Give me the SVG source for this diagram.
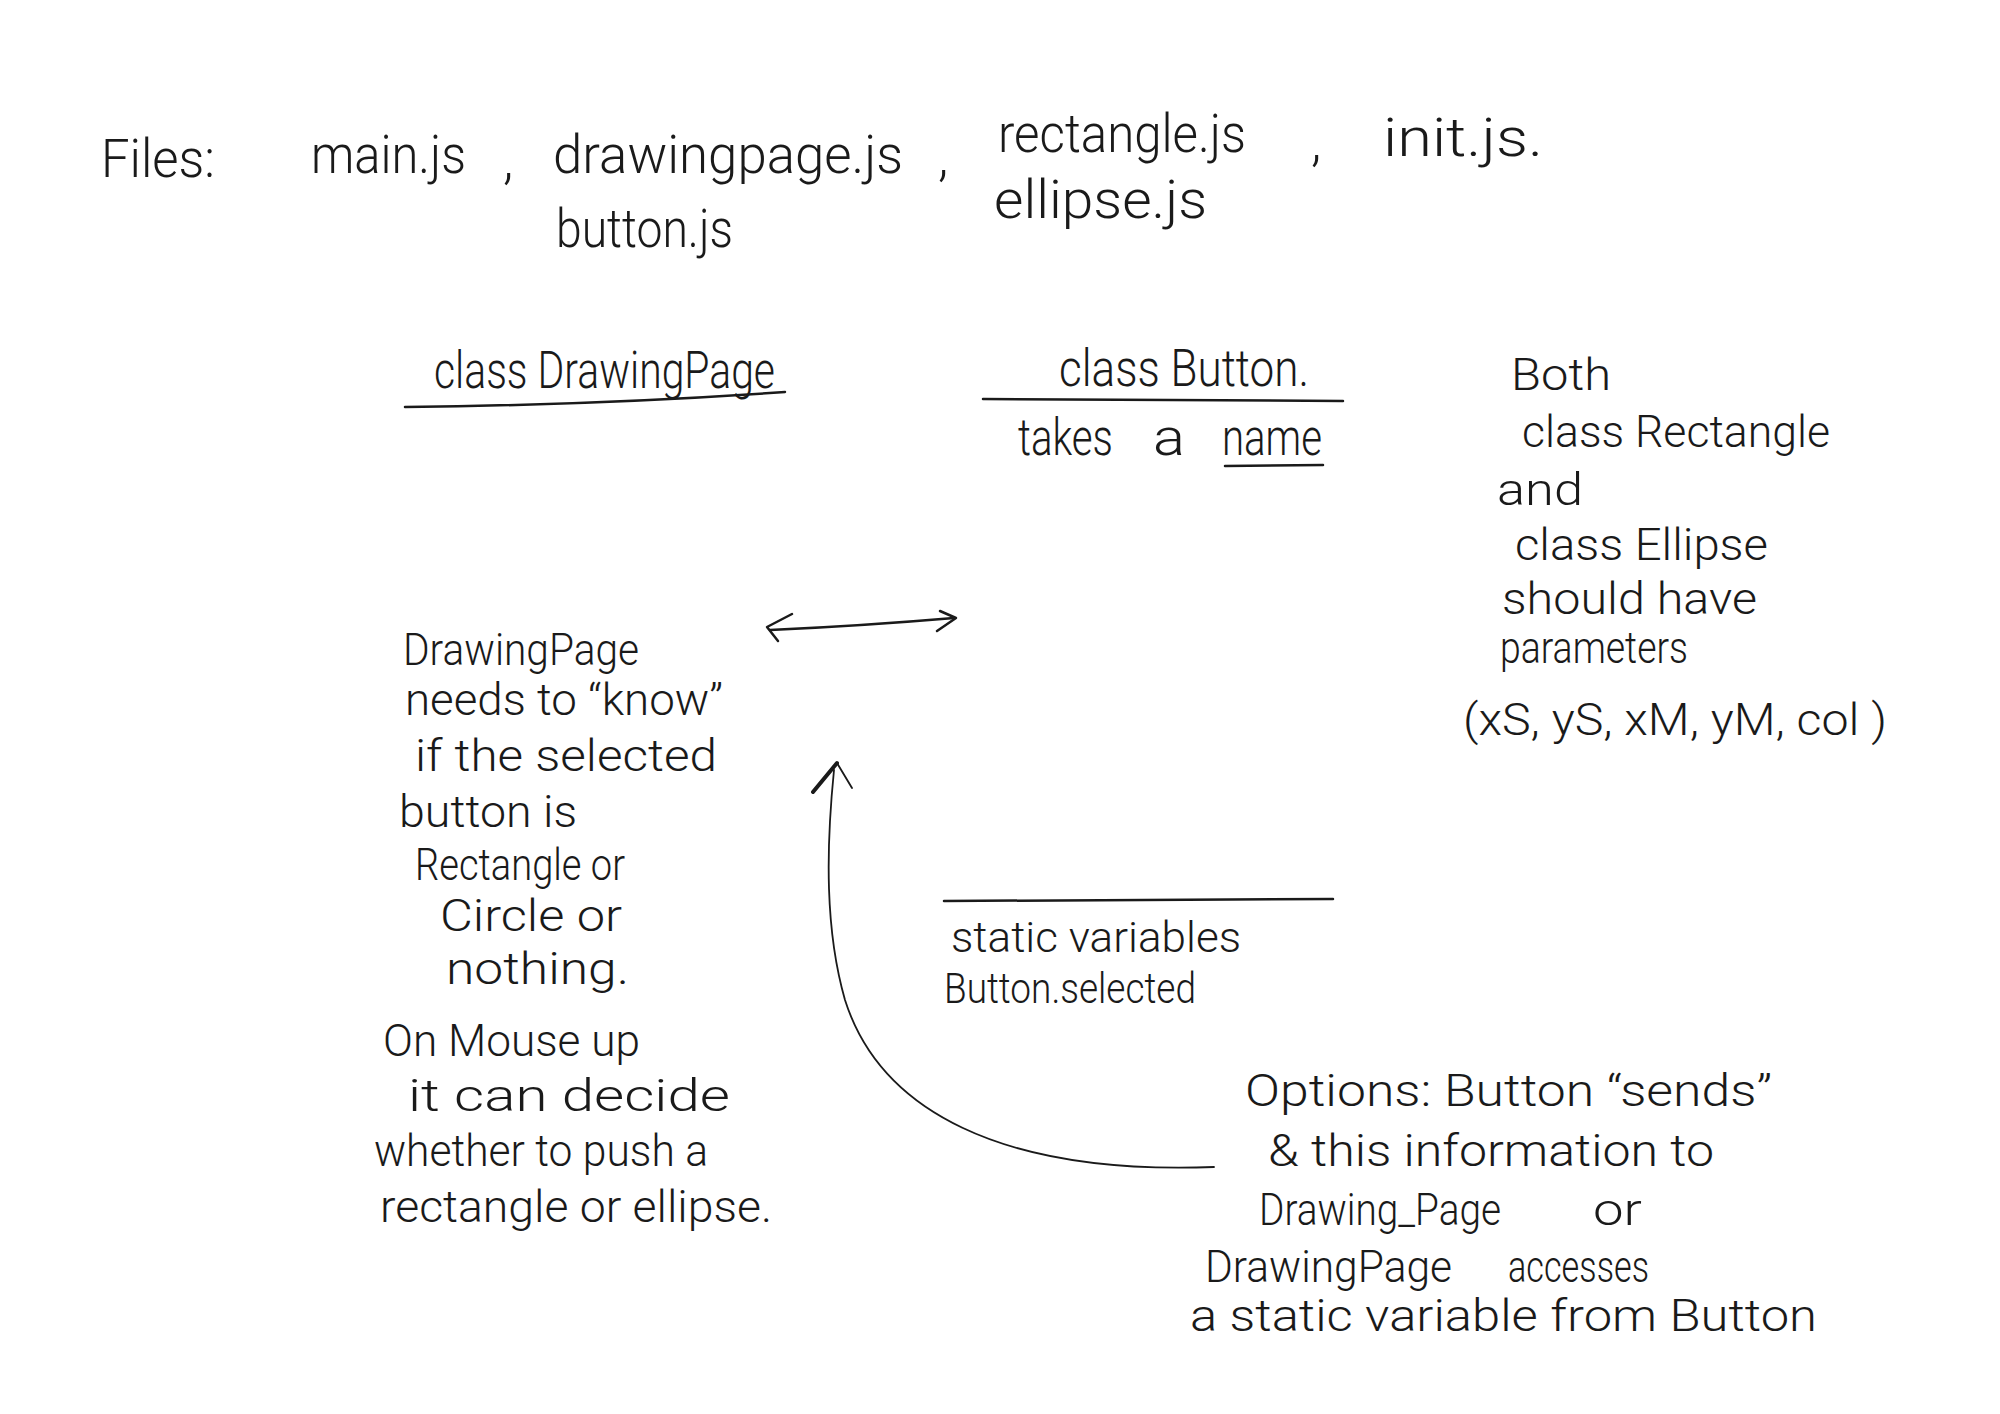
<svg xmlns="http://www.w3.org/2000/svg" width="2000" height="1414" viewBox="0 0 2000 1414">
<style>
  text { font-family: Roboto, Lato, "Liberation Sans", sans-serif; font-weight: 300; fill: #1a1a1a; }
  .f54 { font-size: 54px; }
  .f52 { font-size: 52px; }
  .f44 { font-size: 44px; }
  .f42 { font-size: 42px; }
  .ln { fill: none; stroke: #1a1a1a; stroke-width: 2.5; stroke-linecap: round; stroke-linejoin: round; }
  .thin { fill: none; stroke: #1a1a1a; stroke-width: 1.8; stroke-linecap: round; stroke-linejoin: round; }
</style>
<rect width="2000" height="1414" fill="#ffffff"/>

<g id="files" class="f54">
  <text x="101" y="177" textLength="114" lengthAdjust="spacingAndGlyphs">Files:</text>
  <text x="311" y="173" textLength="155" lengthAdjust="spacingAndGlyphs">main.js</text>
  <text x="503" y="178">,</text>
  <text x="553" y="173" textLength="350" lengthAdjust="spacingAndGlyphs">drawingpage.js</text>
  <text x="938" y="175">,</text>
  <text x="998" y="152" textLength="248" lengthAdjust="spacingAndGlyphs">rectangle.js</text>
  <text x="1311" y="160">,</text>
  <text x="1383" y="156" textLength="160" lengthAdjust="spacingAndGlyphs">init.js.</text>
  <text x="556" y="247" textLength="177" lengthAdjust="spacingAndGlyphs">button.js</text>
  <text x="994" y="218" textLength="213" lengthAdjust="spacingAndGlyphs">ellipse.js</text>
</g>

<g id="class-drawingpage" class="f52">
  <text x="434" y="388" textLength="341" lengthAdjust="spacingAndGlyphs">class DrawingPage</text>
  <path class="ln" d="M405,407 Q600,405 785,392"/>
</g>

<g id="class-button" class="f52">
  <text x="1059" y="386" textLength="250" lengthAdjust="spacingAndGlyphs">class Button.</text>
  <path class="ln" d="M983,399 L1343,401"/>
  <text x="1018" y="455" textLength="95" lengthAdjust="spacingAndGlyphs">takes</text>
  <text x="1153" y="455" textLength="32" lengthAdjust="spacingAndGlyphs">a</text>
  <text x="1222" y="455" textLength="100" lengthAdjust="spacingAndGlyphs">name</text>
  <path class="ln" d="M1225,466 L1323,465"/>
</g>

<g id="shapes-note" class="f44">
  <text x="1511" y="390" textLength="100" lengthAdjust="spacingAndGlyphs">Both</text>
  <text x="1522" y="447" textLength="308" lengthAdjust="spacingAndGlyphs">class Rectangle</text>
  <text x="1497" y="505" textLength="86" lengthAdjust="spacingAndGlyphs">and</text>
  <text x="1515" y="560" textLength="253" lengthAdjust="spacingAndGlyphs">class Ellipse</text>
  <text x="1502" y="614" textLength="255" lengthAdjust="spacingAndGlyphs">should have</text>
  <text x="1500" y="663" textLength="188" lengthAdjust="spacingAndGlyphs">parameters</text>
  <text x="1463" y="735" textLength="424" lengthAdjust="spacingAndGlyphs">(xS, yS, xM, yM, col )</text>
</g>

<g id="drawingpage-note" class="f44">
  <text x="403" y="665" textLength="236" lengthAdjust="spacingAndGlyphs">DrawingPage</text>
  <text x="405" y="715" textLength="318" lengthAdjust="spacingAndGlyphs">needs to “know”</text>
  <text x="415" y="771" textLength="302" lengthAdjust="spacingAndGlyphs">if the selected</text>
  <text x="399" y="827" textLength="178" lengthAdjust="spacingAndGlyphs">button is</text>
  <text x="415" y="880" textLength="210" lengthAdjust="spacingAndGlyphs">Rectangle or</text>
  <text x="440" y="931" textLength="182" lengthAdjust="spacingAndGlyphs">Circle or</text>
  <text x="446" y="984" textLength="183" lengthAdjust="spacingAndGlyphs">nothing.</text>
  <text x="383" y="1056" textLength="257" lengthAdjust="spacingAndGlyphs">On Mouse up</text>
  <text x="408" y="1111" textLength="322" lengthAdjust="spacingAndGlyphs">it can decide</text>
  <text x="374" y="1166" textLength="334" lengthAdjust="spacingAndGlyphs">whether to push a</text>
  <text x="380" y="1222" textLength="392" lengthAdjust="spacingAndGlyphs">rectangle or ellipse.</text>
</g>

<g id="static-vars" class="f42">
  <path class="ln" d="M944,901 L1333,899"/>
  <text x="951" y="952" textLength="290" lengthAdjust="spacingAndGlyphs">static variables</text>
  <text x="944" y="1003" textLength="252" lengthAdjust="spacingAndGlyphs">Button.selected</text>
</g>

<g id="options-note" class="f44">
  <text x="1245" y="1106" textLength="527" lengthAdjust="spacingAndGlyphs">Options: Button “sends”</text>
  <text x="1268" y="1166" textLength="446" lengthAdjust="spacingAndGlyphs">&amp; this information to</text>
  <text x="1259" y="1225" textLength="242" lengthAdjust="spacingAndGlyphs">Drawing_Page</text>
  <text x="1593" y="1225" textLength="49" lengthAdjust="spacingAndGlyphs">or</text>
  <text x="1205" y="1282" textLength="247" lengthAdjust="spacingAndGlyphs">DrawingPage</text>
  <text x="1508" y="1282" textLength="141" lengthAdjust="spacingAndGlyphs">accesses</text>
  <text x="1190" y="1331" textLength="627" lengthAdjust="spacingAndGlyphs">a static variable from Button</text>
</g>

<g id="connectors">
  <path class="ln" d="M770,630 Q860,626 954,618"/>
  <path class="ln" d="M792,614 L767,627 L778,641"/>
  <path class="ln" d="M940,611 L956,618 L937,631"/>
  <path class="thin" d="M1214,1167 C1000,1175 880,1110 845,1000 C825,930 826,850 834,770"/>
  <path class="thin" d="M852,788 L837,763"/>
  <path fill="none" stroke="#1a1a1a" stroke-width="4" stroke-linecap="round" d="M837,763 L813,792"/>
</g>
</svg>
